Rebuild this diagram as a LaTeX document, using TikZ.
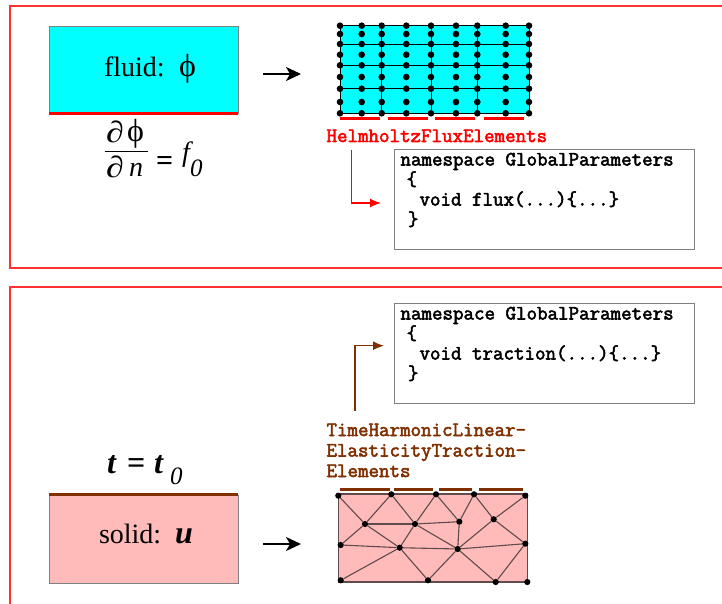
\documentclass[tikz,border=0pt]{standalone}
\usepackage{fontspec}
\usepackage{graphicx}
\setmainfont{Liberation Serif}
\newfontfamily\codefont[FakeBold=2.6]{Latin Modern Mono}
\usetikzlibrary{arrows.meta}
\definecolor{framered}{RGB}{255,48,48}
\definecolor{brownline}{RGB}{128,48,0}
\definecolor{solidfill}{RGB}{255,186,186}
\definecolor{fluidfill}{RGB}{0,255,255}
\definecolor{boxgray}{RGB}{128,128,128}
\definecolor{meshgray}{RGB}{95,75,75}
\definecolor{purered}{RGB}{255,0,0}
\newcommand{\sz}[1]{\fontsize{#1}{#1}\selectfont}
\newcommand{\wdel}{\scalebox{1.2}[1]{∂}}
\tikzset{
  x=1pt,y=-1pt,
  txt/.style={anchor=base west,inner sep=0pt,outer sep=0pt,text=black},
  code/.style={txt,font=\sz{20.4}\codefont},
  redframe/.style={draw=framered,line width=2pt},
  regionbox/.style={draw=boxgray,line width=1pt},
  codebox/.style={draw=boxgray,line width=1pt,fill=white},
  bigarrow/.style={black,line width=1.4pt,-{Stealth[length=15pt,width=14pt,inset=4pt]}},
  fluxarrow/.style={purered,line width=1.2pt,-{Latex[length=11pt,width=9pt]}},
  tracarrow/.style={brownline,line width=1.2pt,-{Latex[length=11pt,width=9pt]}},
  meshdot/.style={circle,fill=black,inner sep=0pt,minimum size=6.6pt},
  boundline/.style={line width=2.6pt,line cap=butt},
}
\begin{document}
\begin{tikzpicture}
\useasboundingbox (0,0) rectangle (722,604);
\fill[white] (0,0) rectangle (722,604);
% frames
\draw[redframe] (722,6.5) -- (9.5,6.5) -- (9.5,268) -- (722,268);
\draw[redframe] (722,286.5) -- (9.5,286.5) -- (9.5,604);

% ---------- fluid
\node[regionbox,fill=fluidfill,minimum width=189pt,minimum height=87pt,inner sep=0pt,anchor=north west] (fluid) at (49,26) {};
\draw[purered,boundline] (49,113.5) -- (238,113.5);
\node[txt,font=\sz{28}] (fluidtxt) at (104,77) {fluid:};
\node[txt,font=\sz{32}] (fluidphi) at (179,77) {ϕ};
\node[txt,font=\sz{30}] (numd) at (106,142.5) {\wdel};
\node[txt,font=\sz{32}] (nump) at (127,142) {ϕ};
\draw[black,line width=0.9pt] (105,151.7) -- (148,151.7);
\node[txt,font=\sz{30}] (denp) at (106,178) {\wdel};
\node[txt,font=\sz{28}\itshape] (denn) at (129,177) {n};
\node[txt,font=\sz{30}\bfseries] (eqp) at (156,171) {=};
\node[txt,font=\sz{28}\itshape] (ff) at (182,161) {f};
\node[txt,font=\sz{25}\itshape] (fz) at (190,176) {0};
\coordinate (fa1) at (263,74);
\coordinate (fa2) at (301,74);
\draw[bigarrow] (fa1) -- (fa2);

% fluid mesh
\fill[fluidfill] (340,25.7) rectangle (529,113.3);
\foreach \x in {340,381.7,431,477.3,529} \draw[black,line width=0.7pt] (\x,25.7) -- (\x,113.3);
\foreach \y in {25.7,44,65.3,88.7,113.3} \draw[black,line width=0.7pt] (340,\y) -- (529,\y);
\foreach \x [count=\i] in {340,361.7,381.7,406.3,431,456,477.3,505.7,529}
  \foreach \y [count=\j] in {25.7,34,44,54.7,65.3,77,88.7,102,113.3}
    \node[meshdot] (f\i-\j) at (\x,\y) {};
\draw[purered,boundline] (340,118.3) -- (380,118.3);
\draw[purered,boundline] (388,118.3) -- (428,118.3);
\draw[purered,boundline] (434.7,118.3) -- (475,118.3);
\draw[purered,boundline] (484,118.3) -- (523.7,118.3);

\node[code,text=purered] (hlabel) at (326.5,142) {HelmholtzFluxElements};
\node[codebox,minimum width=299.7pt,minimum height=100pt,inner sep=0pt,anchor=north west] (hbox) at (394,149) {};
\node[code] (h1) at (400.5,165.5) {namespace GlobalParameters};
\node[code] (h2) at (406.5,185.5) {\{};
\node[code] (h3) at (419.5,205.5) {void flux(...)\{...\}};
\node[code] (h4) at (408,225.5) {\}};
\coordinate (hs) at (351.7,150);
\coordinate (he) at (381,203);
\draw[fluxarrow] (hs) |- (he);

% ---------- solid
\node[regionbox,fill=solidfill,minimum width=189pt,minimum height=88pt,inner sep=0pt,anchor=north west] (solid) at (49,495) {};
\draw[brownline,line width=3pt] (49,494.5) -- (238,494.5);
\node[txt,font=\sz{28}] (solidtxt) at (99,543) {solid:};
\node[txt,font=\sz{32}\bfseries\itshape] (solidu) at (175,543) {u};
\node[txt,font=\sz{32}\bfseries\itshape] (t1) at (107,473.5) {t};
\node[txt,font=\sz{32}\bfseries] (teq) at (127,473.5) {=};
\node[txt,font=\sz{32}\bfseries\itshape] (t2) at (154,473.5) {t};
\node[txt,font=\sz{25}\itshape] (tz) at (170,484) {0};
\coordinate (sa1) at (263,544);
\coordinate (sa2) at (301,544);
\draw[bigarrow] (sa1) -- (sa2);

% solid mesh
\fill[solidfill] (338.3,494) rectangle (527.3,582);
\draw[meshgray,line width=1.1pt] (338.3,494) rectangle (527.3,582);
\foreach \n/\x/\y in {A/338.3/495.7,B/391.3/494.3,C/436/494.3,D/474/494.3,E/525.3/495.7,
  F/365/524,G/415/524,H/459.3/521.7,I/493.7/519.3,J/525.3/543.7,
  K/340.7/545,L/399.7/547.7,M/457.7/549,
  N/340.7/580.3,O/428/580.3,P/495.7/582,Q/527.3/582}
  \node[circle,fill=black,inner sep=0pt,minimum size=6.2pt] (\n) at (\x,\y) {};
\foreach \a/\b in {A/F,B/F,B/G,C/G,C/H,D/H,D/I,E/I,F/G,G/H,H/M,I/M,I/J,F/K,F/L,G/L,G/M,K/L,L/M,M/J,L/N,L/O,M/O,M/P,J/P}
  \draw[meshgray,line width=1.1pt] (\a) -- (\b);
\draw[brownline,line width=3pt] (340,489.3) -- (390,489.3);
\draw[brownline,line width=3pt] (394,489.3) -- (433.3,489.3);
\draw[brownline,line width=3pt] (439,489.3) -- (471.7,489.3);
\draw[brownline,line width=3pt] (479.3,489.3) -- (522.7,489.3);

\node[code,text=brownline] (tl1) at (326.5,436) {TimeHarmonicLinear-};
\node[code,text=brownline] (tl2) at (326.5,456.5) {ElasticityTraction-};
\node[code,text=brownline] (tl3) at (326.5,477) {Elements};
\node[codebox,minimum width=299.7pt,minimum height=100pt,inner sep=0pt,anchor=north west] (tbox) at (394,303) {};
\node[code] (s1) at (400.5,319.5) {namespace GlobalParameters};
\node[code] (s2) at (406.5,339.5) {\{};
\node[code] (s3) at (419.5,359.5) {void traction(...)\{...\}};
\node[code] (s4) at (408,379.5) {\}};
\coordinate (ts) at (355,411);
\coordinate (te) at (384,345.7);
\draw[tracarrow] (ts) |- (te);
\end{tikzpicture}
\end{document}
